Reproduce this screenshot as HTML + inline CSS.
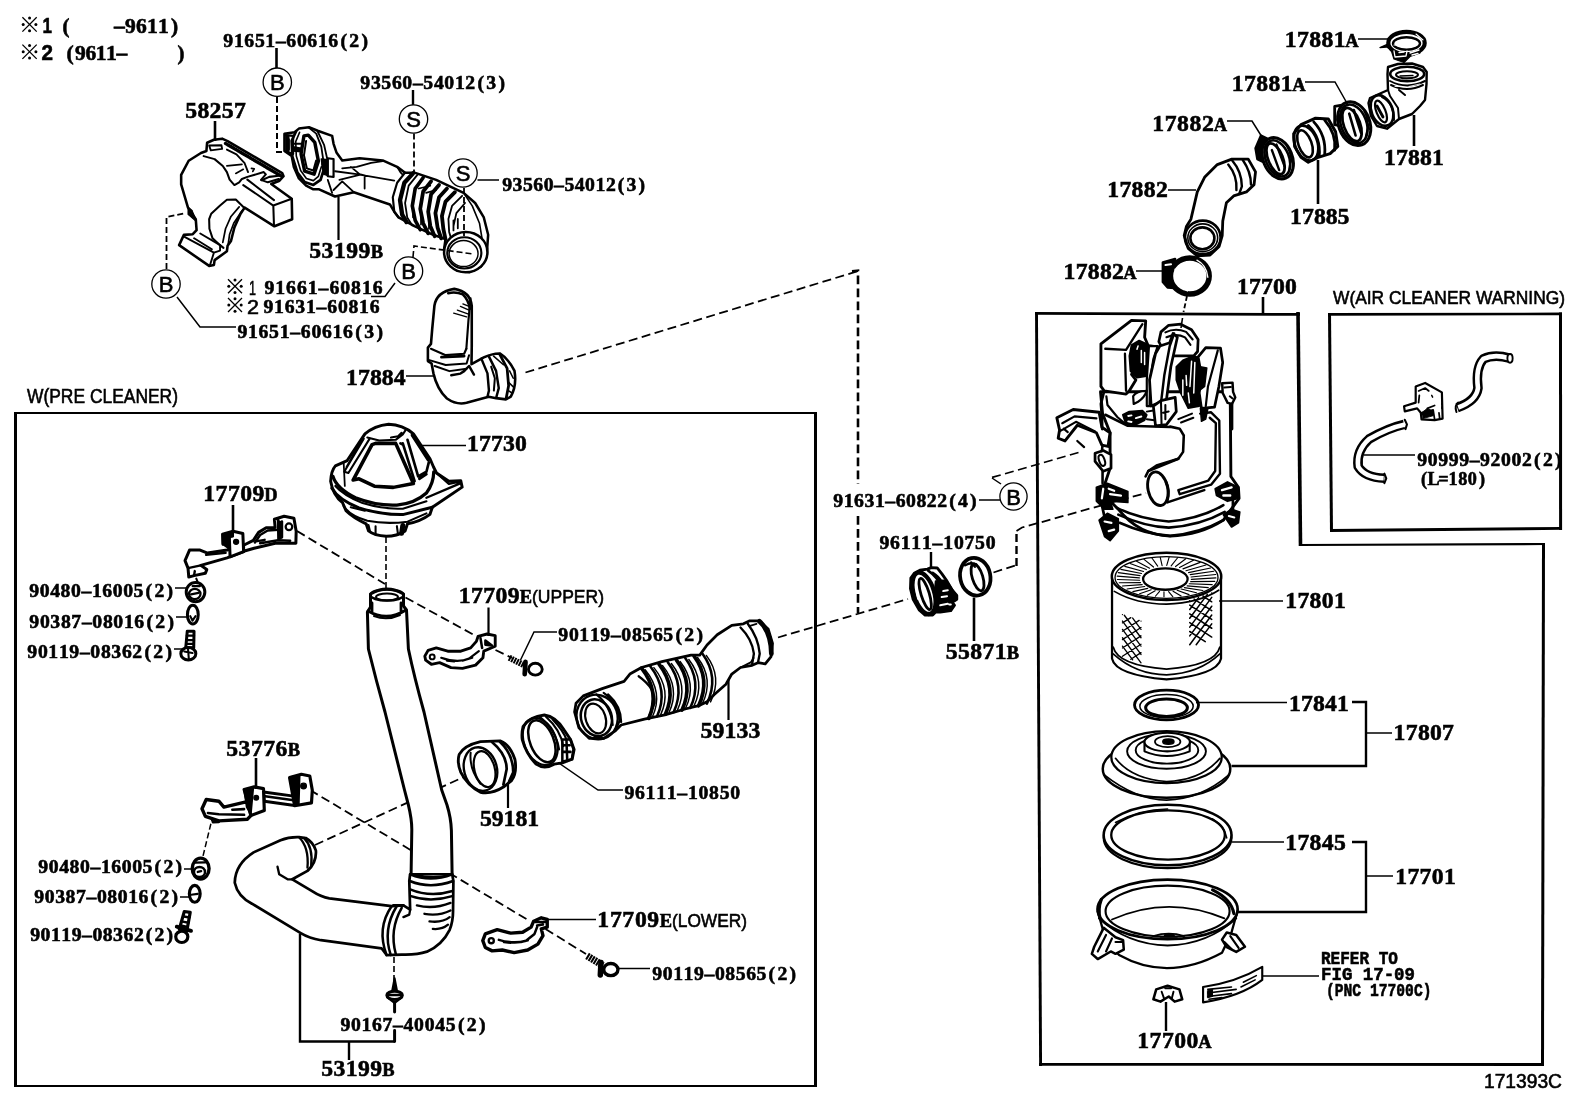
<!DOCTYPE html>
<html><head><meta charset="utf-8"><title>Air cleaner parts diagram</title>
<style>html,body{margin:0;padding:0;background:#fff;}svg{display:block;}text{fill:#000;stroke:#000;stroke-width:0.6px;}</style>
</head><body>
<svg width="1592" height="1099" viewBox="0 0 1592 1099">
<rect x="0" y="0" width="1592" height="1099" fill="#fff"/>
<!-- frames -->
<path d="M15.5,412 L15.5,1087" fill="none" stroke="#000" stroke-width="3" />
<path d="M815.5,412 L815.5,1087" fill="none" stroke="#000" stroke-width="3" />
<path d="M14,413 L817,413" fill="none" stroke="#000" stroke-width="2" />
<path d="M14,1086 L817,1086" fill="none" stroke="#000" stroke-width="2" />
<path d="M1035,313.4 L1300,314.4" fill="none" stroke="#000" stroke-width="2.8" />
<path d="M1298,312 L1300.5,546" fill="none" stroke="#000" stroke-width="3.6" />
<path d="M1299,545 L1545,544" fill="none" stroke="#000" stroke-width="2.1" />
<path d="M1543.5,543 L1542.5,1066" fill="none" stroke="#000" stroke-width="3" />
<path d="M1039,1064.4 L1544,1064.5" fill="none" stroke="#000" stroke-width="2.8" />
<path d="M1036.5,312 L1040.6,1066" fill="none" stroke="#000" stroke-width="2.9" />
<path d="M1329.5,313 L1331.5,532" fill="none" stroke="#000" stroke-width="3" />
<path d="M1328,314.4 L1562,313.9" fill="none" stroke="#000" stroke-width="2.6" />
<path d="M1560.5,312.5 L1560.6,530" fill="none" stroke="#000" stroke-width="3" />
<path d="M1330,530.5 L1562,528.4" fill="none" stroke="#000" stroke-width="2.9" />
<!-- dashed (behind parts) -->
<path d="M525.5,372.5 L860,270.5" fill="none" stroke="#000" stroke-width="1.8" stroke-dasharray="9 4.5" />
<path d="M778,637.5 L908,599" fill="none" stroke="#000" stroke-width="1.8" stroke-dasharray="9 4.5" />
<path d="M993.5,572.5 L1016.5,565" fill="none" stroke="#000" stroke-width="1.8" stroke-dasharray="9 4.5" />
<path d="M1078.5,452.5 L992,477.5" fill="none" stroke="#000" stroke-width="1.8" stroke-dasharray="9 4.5" />
<path d="M1187,296 L1183.5,312" fill="none" stroke="#000" stroke-width="1.8" stroke-dasharray="5 2.5" />
<path d="M386,537 L386,590" fill="none" stroke="#000" stroke-width="1.6" stroke-dasharray="6 3" />
<path d="M297,531 L385,584" fill="none" stroke="#000" stroke-width="1.8" stroke-dasharray="9 4.5" />
<path d="M405.5,597.5 L476,636" fill="none" stroke="#000" stroke-width="1.8" stroke-dasharray="9 4.5" />
<path d="M495.5,650 L512,658" fill="none" stroke="#000" stroke-width="1.8" stroke-dasharray="9 4.5" />
<path d="M310,790 L528,920" fill="none" stroke="#000" stroke-width="1.8" stroke-dasharray="9 4.5" />
<path d="M545.5,929 L586,954" fill="none" stroke="#000" stroke-width="1.8" stroke-dasharray="9 4.5" />
<path d="M213,815 L203,856" fill="none" stroke="#000" stroke-width="1.5" stroke-dasharray="6 3" />
<path d="M315,845 L468,775" fill="none" stroke="#000" stroke-width="1.8" stroke-dasharray="9 4.5" />
<path d="M394,957 L394,981" fill="none" stroke="#000" stroke-width="1.6" stroke-dasharray="6 3" />
<!-- parts -->
<!-- 01_58257.svg -->
<g transform="translate(160,125) scale(0.13652)" fill="none" stroke="#000" stroke-linejoin="round" stroke-linecap="round">
<path d="M345,130 L395,108 L455,100 L495,118 L895,352 L905,375 L875,408 L815,432 L965,540 L968,690 L838,742 L620,605 L590,650 L545,750 L520,850 L495,885 L490,925 L400,990 L395,1025 L360,1032 L140,880 L175,805 L240,800 L268,770 L262,690 L205,605 L155,435 L155,365 L210,262 L300,205 L340,190 Z" fill="#fff" stroke-width="18.8"/>
<path d="M205,600 L235,625 L262,690 L258,700 L205,655 Z" fill="#000" stroke-width="7.5"/>
<path d="M360,150 L450,148 L455,175 L372,186 Z" stroke-width="13.8"/>
<path d="M480,135 L885,372" stroke-width="25.0" stroke-dasharray="10 5"/>
<path d="M490,180 L560,215 L620,280 L645,345" stroke-width="13.8"/>
<path d="M320,228 L400,250 L460,300 L490,345 L510,400 L545,440 L580,420 L600,395 L640,380 L760,345 L775,362 L740,402 L790,420 L870,395" stroke-width="15.0"/>
<path d="M745,405 L800,380 L870,372" stroke-width="15.0"/>
<path d="M490,300 L600,288 M555,355 L610,325 M670,318 L690,322 L680,340" stroke-width="12.5"/>
<path d="M640,400 L835,550 M610,440 L830,590 L835,740 M830,590 L965,540" stroke-width="15.0"/>
<path d="M620,610 L555,545 L490,548 L440,590 L375,650 L360,690 L362,760 L385,830 L440,880 L465,900" stroke-width="15.0"/>
<path d="M580,600 L520,670 L480,760 L460,860 M600,630 L540,720 L510,800 L500,870" stroke-width="12.5"/>
<path d="M180,820 L395,935 L440,920 L440,880 M395,935 L365,1030 M250,830 L380,910 M295,795 L440,880" stroke-width="13.8"/>
</g>
<!-- 02_53199B_top.svg -->
<g transform="translate(270,125) scale(0.14447)" fill="none" stroke="#000" stroke-linejoin="round" stroke-linecap="round">
<!-- duct body silhouette -->
<path d="M100,60 L170,50 L200,25 L270,15 L330,40 L430,75 L440,130 L460,190 L500,245 L620,230 L780,245 L880,290 L935,330 L1000,330 L1150,380 L1340,470 L1420,540 L1480,640 L1510,760 L1500,900 L1460,980 L1380,1020 L1290,1005 L1225,940 L1205,860 L1215,790 L1130,760 L1000,700 L890,640 L860,600 L830,550 L580,465 L450,495 L340,445 L300,445 L250,420 L200,370 L165,290 L150,215 L100,180 Z" fill="#fff" stroke-width="17.5"/>
<!-- flange details -->
<path d="M180,45 L150,110 L155,220 L190,330 L240,395 L300,415 L350,380 L375,300" stroke-width="18.8"/>
<path d="M205,50 L178,115 L182,215 L212,315 L252,370 L300,385 L335,355 L355,290" stroke-width="11.2"/>
<path d="M235,75 L215,200 L240,320 L305,340 L335,250 L310,120 L265,70 Z" stroke-width="23.8"/>
<path d="M250,110 L235,210 L255,300 L300,315 L320,245" stroke-width="13.8"/>
<path d="M110,70 L130,72 L130,185 L110,180 Z M160,150 L215,160 L215,185 L160,180 Z" fill="#000" stroke-width="10.0"/>
<path d="M355,235 L400,240 L400,350 L370,340 Z" fill="#000" stroke-width="10.0"/>
<path d="M270,20 L320,60 L355,150 L370,250 M330,45 L375,140 L395,230" stroke-width="12.5"/>
<path d="M110,70 L160,75 L160,200 L110,185 M130,100 L130,170 M160,130 L215,130 M160,165 L215,175" stroke-width="15.0"/>
<path d="M400,230 L440,235 L440,360 L400,355 Z" stroke-width="15.0"/>
<circle cx="378" cy="270" r="16" stroke-width="15.0"/>
<!-- duct inner lines -->
<path d="M450,320 L600,340 L860,385 M560,290 L620,340 L660,350 M655,360 L655,440 M500,300 L600,290 L700,262 L780,250 M400,380 L430,470 M440,450 L500,390 L580,465 M480,380 L620,345 M880,290 L905,330 L920,345" stroke-width="12.5"/>
<!-- hose collar -->
<path d="M935,330 L880,400 L850,500 L860,600 L890,640" stroke-width="15.0"/>
<path d="M990,335 L930,400 L900,520 L915,620 L945,672" stroke-width="30.0"/>
<path d="M1020,345 L960,420 L935,540 L950,640 L985,695" stroke-width="12.5"/>
<!-- bellows ribs -->
<path d="M1060,365 L1005,440 L985,560 L1005,660 L1040,725" stroke-width="25.0"/>
<path d="M1115,390 L1060,460 L1040,580 L1060,680 L1095,750" stroke-width="26.2"/>
<path d="M1170,415 L1115,480 L1095,600 L1110,700 L1140,770" stroke-width="26.2"/>
<path d="M1225,440 L1170,500 L1145,610 L1160,710 L1185,785" stroke-width="26.2"/>
<path d="M1280,465 L1215,530 L1190,630 L1200,720 L1215,790" stroke-width="26.2"/>
<path d="M1030,440 L1110,420 M1080,470 L1150,450 M990,560 L990,640 M1045,600 L1045,690 M1100,620 L1100,720" stroke-width="11.2"/>
<!-- elbow -->
<path d="M1330,490 L1260,560 L1235,650 L1240,740 L1255,790" stroke-width="12.5"/>
<path d="M1350,540 L1290,610 L1270,700 M1270,660 L1270,730 M1300,650 L1300,715" stroke-width="12.5"/>
<path d="M1340,470 L1400,560 L1450,680 L1470,800" stroke-width="11.2"/>
<!-- end ring -->
<ellipse cx="1355" cy="880" rx="150" ry="140" fill="#fff" stroke-width="17.5"/>
<ellipse cx="1345" cy="885" rx="118" ry="108" stroke-width="15.0"/>
<ellipse cx="1340" cy="890" rx="100" ry="90" stroke-width="10.0"/>
</g>
<!-- 03_17884.svg -->
<g transform="translate(415,280) scale(0.12283)" fill="none" stroke="#000" stroke-linejoin="round" stroke-linecap="round">
<path d="M158,210 Q175,95 320,72 Q450,95 462,210 L462,540 L460,685 L560,630 Q620,600 690,598 Q760,640 810,740 Q830,860 780,950 L740,972 L660,962 L600,950 L420,1000 Q340,1020 260,965 Q180,890 150,760 L135,680 L105,660 L105,550 L130,520 L140,400 Z" fill="#fff" stroke-width="21.2"/>
<path d="M452,150 L435,330 L418,560" stroke-width="17.5"/>
<path d="M270,108 Q330,92 390,118 Q435,160 447,235" stroke-width="20.0"/>
<path d="M315,270 L420,300 M345,245 L430,275 M370,215 L440,245 M390,195 L440,215" stroke-width="11.2"/>
<path d="M130,560 L250,612 L400,600 L418,560" stroke-width="17.5"/>
<path d="M215,628 L400,620" stroke-width="22.5"/>
<path d="M110,650 L250,692 L420,680 L440,612 M160,700 L280,742 L420,722" stroke-width="16.2"/>
<path d="M295,775 L370,762 L400,742 L440,700 L480,770" stroke-width="20.0"/>
<path d="M540,640 L590,760 L602,900 L590,950 M600,620 L660,740 L682,880 L662,955" stroke-width="20.0"/>
<path d="M620,705 L650,800 L642,900" stroke-width="16.2"/>
<path d="M690,605 L750,720 L762,860 L742,965" stroke-width="22.5"/>
<path d="M640,620 L720,690 M770,740 L800,800 M760,830 L800,870 M760,900 L790,920" stroke-width="12.5"/>
</g>
<!-- 04_17730.svg -->
<g transform="translate(320,415) scale(0.11826)" fill="none" stroke="#000" stroke-linejoin="round" stroke-linecap="round">
<path d="M380,160 Q460,90 580,78 Q700,80 790,160 L930,370 L960,440 L985,490 L1090,560 L1190,555 L1202,610 L950,780 L930,840 Q850,900 740,920 L720,980 Q650,1025 560,1025 Q460,1020 410,980 L390,920 Q280,870 220,810 L190,740 Q110,680 90,560 Q95,470 130,430 L230,385 Z" fill="#fff" stroke-width="25.0"/>
<path d="M400,190 L500,215 L640,210 L700,165 L722,130 M600,190 L660,180 L690,150" stroke-width="17.5"/>
<path d="M470,240 L640,240 L790,580 L620,612 L460,602 L330,540 L280,550 L440,250 Z" stroke-width="30.0"/>
<path d="M420,200 L240,490 L205,480 L370,200 M350,215 L225,440" stroke-width="17.5"/>
<path d="M740,210 L830,520 L900,480 L920,400 M700,240 L800,560 M680,240 L700,250 M840,540 L900,500" stroke-width="22.5"/>
<path d="M780,170 L915,380" stroke-width="27.5"/>
<path d="M110,520 Q140,620 300,700 Q480,770 650,762 Q800,750 900,660 Q960,580 962,480" stroke-width="27.5"/>
<path d="M130,600 Q200,680 360,745 Q540,800 700,792 L900,730" stroke-width="17.5"/>
<path d="M100,620 Q160,720 330,785 Q520,845 700,842 L950,780" stroke-width="25.0"/>
<path d="M200,770 Q250,850 400,895 Q560,925 740,902 L900,832 M260,780 L380,810" stroke-width="17.5"/>
<path d="M410,930 L422,980 M470,940 L470,1012 M650,940 L660,1012" stroke-width="17.5"/>
<path d="M700,935 L690,1000" stroke-width="42.5"/>
<path d="M985,490 L1090,582 L1190,560 M900,700 L1180,580" stroke-width="20.0"/>
<path d="M200,400 L210,600" stroke-width="15.0"/>
</g>
<!-- 05_pipes.svg -->
<g fill="none" stroke="#000" stroke-linejoin="round" stroke-linecap="round">
<!-- tall pipe (source coords) -->
<path d="M367.4,612 L368.4,649 Q376,680 385,712 L404.5,790 L408.4,805 Q412,820 411.8,830.5 L411,880 L452.2,880 L451.4,830.5 Q451,818 447,805 L441.7,790 L424,712 Q414,676 408.4,649 L406.5,610 L403.5,606 L403.5,594 Q387,584 370.5,594 L370.5,607 Z" fill="#fff" stroke-width="3.0"/>
<ellipse cx="387" cy="595" rx="16.5" ry="5.6" stroke-width="2.5"/>
<ellipse cx="387" cy="597" rx="11" ry="3.6" stroke-width="2.0"/>
<path d="M368,611 Q387,622 406,610 M372,612 L372,603 M401,611 L401,603" stroke-width="2.8"/>
<path d="M374,616 Q387,621 400,615" stroke-width="2.0"/>
</g>
<g transform="translate(225,780) scale(0.16830)" fill="none" stroke="#000" stroke-linejoin="round" stroke-linecap="round">
<!-- lower pipe silhouette -->
<path d="M440,340 Q380,338 330,358 L170,430 Q60,500 58,610 Q75,690 160,735 L450,910 Q500,940 570,952 L930,1000 L960,1040 L1050,1037 Q1140,1040 1200,1020 Q1290,980 1335,890 Q1355,840 1355,780 L1357,600 L1350,560 L1100,560 L1095,600 L1100,770 L1060,745 L990,750 L620,703 Q570,695 520,662 L400,590 L490,540 Q545,490 540,420 Q525,370 480,345 Z" fill="#fff" stroke-width="16.2"/>
<!-- end ring -->
<path d="M440,340 Q500,400 490,520 M470,345 Q525,400 512,510" stroke-width="13.8"/>
<path d="M312,515 L322,560 L372,590 L400,590" stroke-width="13.8"/>
<!-- collar and ribs of elbow -->
<path d="M1100,560 Q1220,610 1350,560 M1135,565 Q1230,590 1330,568" stroke-width="15.0"/>
<path d="M1098,600 Q1220,650 1355,600" stroke-width="15.0"/>
<path d="M1100,650 Q1220,700 1352,660 M1105,690 Q1220,730 1350,690" stroke-width="15.0"/>
<path d="M1140,745 Q1240,770 1340,730 M1185,795 Q1270,810 1340,775 M1215,840 Q1290,850 1335,815 M1235,885 Q1290,890 1325,860" stroke-width="13.8"/>
<path d="M1100,770 L1095,800 L1060,815" stroke-width="13.8"/>
<!-- joint rings -->
<path d="M990,750 Q900,880 960,1040" stroke-width="15.0"/>
<path d="M1020,750 Q935,890 985,1040 M1050,760 Q975,890 1015,1035" stroke-width="15.0"/>
<path d="M1000,745 L1060,745" stroke-width="15.0"/>
</g>
<!-- 06_17709D.svg -->
<g transform="translate(170,505) scale(0.15021)" fill="none" stroke="#000" stroke-linejoin="round" stroke-linecap="round">
<!-- right tab + arm -->
<path d="M695,95 L760,75 L825,88 L840,175 L838,255 L700,255 L560,288 L490,308 L490,268 L555,235 L590,182 L640,152 L700,150 Z" fill="#fff" stroke-width="20.0"/>
<path d="M720,100 L722,225 L745,215 L745,110" fill="#000" stroke-width="17.5"/>
<circle cx="792" cy="145" r="22" stroke-width="15.0"/>
<path d="M572,242 L630,232 M565,250 L600,200 L650,170 L720,165 M600,255 L720,235 L800,238" stroke-width="16.2"/>
<!-- left arm -->
<path d="M380,300 L250,320 L200,300 L130,300 L100,370 L120,420 L125,480 L160,470 L235,455 L245,430 L205,402 L380,352 L490,310 L480,270 Z" fill="#fff" stroke-width="20.0"/>
<path d="M240,332 L370,318 M120,420 L205,402 M160,470 L165,440" stroke-width="16.2"/>
<!-- centre tab -->
<path d="M350,195 L420,175 L485,190 L490,310 L400,345 L395,215 L352,260 Z" fill="#fff" stroke-width="20.0"/>
<path d="M350,195 L420,178 L420,210 L395,215 L392,290 L352,262 Z" fill="#000" stroke-width="12.5"/>
<circle cx="440" cy="245" r="16" fill="#000" stroke-width="10.0"/>
<!-- nut -->
<ellipse cx="170" cy="580" rx="62" ry="64" fill="#fff" stroke-width="20.0"/>
<ellipse cx="165" cy="592" rx="38" ry="34" stroke-width="15.0"/>
<path d="M140,595 L190,585 M150,540 L200,540 M175,490 L185,515" stroke-width="13.8"/>
<!-- washer -->
<ellipse cx="152" cy="730" rx="36" ry="62" fill="#fff" stroke-width="20.0"/>
<path d="M135,740 L150,770 L170,740" stroke-width="13.8"/>
<!-- bolt -->
<path d="M115,840 L160,840 L158,950 L105,950 Z" fill="#fff" stroke-width="20.0"/>
<path d="M112,870 L160,870 M110,900 L160,900 M108,925 L158,925" stroke-width="15.0"/>
<ellipse cx="122" cy="990" rx="50" ry="42" fill="#fff" stroke-width="20.0"/>
<path d="M95,975 L150,985 M120,960 L125,1020" stroke-width="13.8"/>
</g>
<!-- 07_53776B.svg -->
<g transform="translate(170,765) scale(0.16842)" fill="none" stroke="#000" stroke-linejoin="round" stroke-linecap="round">
<!-- middle arm -->
<path d="M555,160 L735,185 L740,240 L560,215 Z" fill="#fff" stroke-width="17.5"/>
<path d="M565,185 L735,210" stroke-width="15.0"/>
<!-- right tab -->
<path d="M710,75 L780,55 L830,65 L845,150 L840,225 L740,242 Z" fill="#fff" stroke-width="18.8"/>
<path d="M710,75 L770,62 L765,235 L740,240 Z" fill="#000" stroke-width="10.0"/>
<circle cx="793" cy="125" r="17" fill="#000" stroke-width="7.5"/>
<!-- left arm -->
<path d="M470,215 L320,250 L290,215 L215,205 L190,260 L210,305 L290,332 L460,322 L480,300 Z" fill="#fff" stroke-width="20.0"/>
<path d="M225,285 L290,292 L440,296 M370,266 L440,262 M250,322 L255,340 L290,338" stroke-width="15.0"/>
<!-- centre tab -->
<path d="M440,145 L500,130 L555,140 L560,270 L480,300 Z" fill="#fff" stroke-width="18.8"/>
<path d="M440,145 L495,133 L480,295 L455,250 Z" fill="#000" stroke-width="10.0"/>
<circle cx="512" cy="195" r="14" fill="#000" stroke-width="7.5"/>
<!-- nut -->
<ellipse cx="182" cy="615" rx="50" ry="62" fill="#fff" stroke-width="20.0"/>
<ellipse cx="175" cy="635" rx="33" ry="30" stroke-width="15.0"/>
<path d="M150,580 L210,578 M165,635 L185,630" stroke-width="13.8"/>
<!-- washer -->
<ellipse cx="147" cy="765" rx="32" ry="50" fill="#fff" stroke-width="18.8"/>
<path d="M125,770 L165,765" stroke-width="12.5"/>
<!-- bolt -->
<path d="M85,870 L120,875 L100,985 L55,975 Z" fill="#fff" stroke-width="18.8"/>
<path d="M82,900 L116,905 M76,930 L110,936 M70,955 L104,962" stroke-width="15.0"/>
<path d="M40,960 L125,985" stroke-width="22.5"/>
<ellipse cx="70" cy="1020" rx="36" ry="34" fill="#fff" stroke-width="18.8"/>
</g>
<!-- 08_59133.svg -->
<g transform="translate(560,610) scale(0.14557)" fill="none" stroke="#000" stroke-linejoin="round" stroke-linecap="round">
<path d="M160,590 L290,540 L440,490 L480,440 L560,395 L700,355 L900,310 L960,310 L1010,240 L1080,170 L1180,105 L1260,95 L1300,75 L1370,75 L1430,130 L1460,230 L1450,320 L1410,370 L1360,362 L1320,380 L1240,395 L1180,440 L1140,510 L1060,580 L1010,630 L960,655 L860,680 L720,720 L580,750 L420,790 L380,830 L300,882 L200,882 L130,810 L100,700 L110,640 Z" fill="#fff" stroke-width="18.8"/>
<ellipse cx="255" cy="735" rx="140" ry="155" transform="rotate(-18 255 735)" stroke-width="16.2"/>
<ellipse cx="250" cy="740" rx="105" ry="128" transform="rotate(-18 250 740)" stroke-width="17.5"/>
<ellipse cx="245" cy="745" rx="68" ry="105" transform="rotate(-18 245 745)" stroke-width="15.0"/>
<path d="M300,570 Q400,640 410,760 L380,830 M250,580 Q350,660 362,790 M330,580 Q420,660 420,770" stroke-width="15.0"/>
<path d="M540,455 Q660,540 650,640 L605,745" stroke-width="15.0"/>
<path d="M560,400 Q690,565 610,745.0" stroke-width="25.0"/>
<path d="M585,410 Q712,565 635,733.0" stroke-width="10.0"/>
<path d="M620,386 Q748,550 667,730.5" stroke-width="17.5"/>
<path d="M645,396 Q770,550 692,718.5" stroke-width="10.0"/>
<path d="M680,372 Q806,535 724,716.0" stroke-width="25.0"/>
<path d="M705,382 Q828,535 749,704.0" stroke-width="10.0"/>
<path d="M740,358 Q864,520 781,701.5" stroke-width="17.5"/>
<path d="M765,368 Q886,520 806,689.5" stroke-width="10.0"/>
<path d="M800,344 Q922,505 838,687.0" stroke-width="25.0"/>
<path d="M825,354 Q944,505 863,675.0" stroke-width="10.0"/>
<path d="M860,330 Q980,490 895,672.5" stroke-width="17.5"/>
<path d="M885,340 Q1002,490 920,660.5" stroke-width="10.0"/>
<path d="M920,316 Q1038,475 952,658.0" stroke-width="25.0"/>
<path d="M945,326 Q1060,475 977,646.0" stroke-width="10.0"/>
<path d="M980,302 Q1096,460 1009,643.5" stroke-width="17.5"/>
<path d="M1005,312 Q1118,460 1034,631.5" stroke-width="10.0"/>
<path d="M1240,120 Q1320,200 1332,300 L1320,372 M1290,95 Q1362,190 1372,300 L1360,360" stroke-width="16.2"/>
<path d="M1370,78 Q1450,150 1452,300" stroke-width="32.5"/>
<path d="M1300,110 L1350,95 M1240,395 L1310,360 L1330,330" stroke-width="12.5"/>
</g>
<!-- 09_clamps_mid.svg -->
<g transform="translate(415,625) scale(0.16372)" fill="none" stroke="#000" stroke-linejoin="round" stroke-linecap="round">
<!-- 17709E upper clamp -->
<path d="M60,190 L80,155 L130,140 L200,160 L280,160 L340,140 L375,100 L385,70 L440,55 L490,65 L490,130 L420,160 L415,200 L370,245 L290,265 L220,260 L150,230 L100,240 L65,215 Z" fill="#fff" stroke-width="17.6"/>
<path d="M160,200 Q260,235 330,205 L390,160 M195,218 L240,222 M290,218 L350,200" stroke-width="13.2"/>
<circle cx="105" cy="195" r="15" stroke-width="12.1"/>
<path d="M400,80 L410,140 M430,95 L470,125 L430,120 Z" stroke-width="15.4" fill="#000"/>
<!-- bolt -->
<path d="M575,200 L680,252" stroke-width="37.4" stroke-dasharray="12 5" stroke-linecap="butt"/>
<path d="M675,225 L670,300" stroke-width="28.6"/>
<ellipse cx="735" cy="270" rx="42" ry="36" fill="#fff" stroke-width="17.6"/>
<!-- clamp 96111-10850 -->
<path d="M660,620 Q700,560 790,550 Q860,560 910,640 L950,700 L972,760 L960,820 L900,842 L850,850 Q790,885 740,850 Q680,790 655,700 Q650,660 660,620 Z" fill="#fff" stroke-width="17.6"/>
<ellipse cx="775" cy="710" rx="72" ry="135" transform="rotate(-22 775 710)" stroke-width="15.4"/>
<ellipse cx="765" cy="712" rx="98" ry="150" transform="rotate(-22 765 712)" stroke-width="13.2"/>
<path d="M760,560 Q860,640 880,760 M800,560 Q890,640 905,740 M840,575 Q910,650 925,700" stroke-width="13.2"/>
<path d="M900,700 L950,700 L968,760 L958,820 L900,835 Z" stroke-width="15.4"/>
<path d="M905,735 L945,735 M905,775 L950,775 M925,700 L930,830" stroke-width="15.4"/>
<!-- ring 59181 -->
<path d="M270,790 Q300,735 400,712 L520,708 Q580,730 610,820 Q625,900 590,950 L540,990 Q470,1035 400,1022 Q320,980 280,900 Q255,840 270,790 Z" fill="#fff" stroke-width="17.6"/>
<ellipse cx="400" cy="880" rx="100" ry="135" transform="rotate(-15 400 880)" stroke-width="14.3"/>
<ellipse cx="425" cy="880" rx="62" ry="112" transform="rotate(-15 425 880)" stroke-width="13.2"/>
<path d="M340,780 Q330,880 400,970" stroke-width="12.1"/>
<path d="M470,715 Q560,790 560,880 L540,975 M520,715 Q600,790 600,900 L575,955" stroke-width="16.5"/>
</g>
<!-- 10_lower_clamp.svg -->
<g transform="translate(370,900) scale(0.16960)" fill="none" stroke="#000" stroke-linejoin="round" stroke-linecap="round">
<path d="M665,240 L680,200 L750,175 L830,195 L900,190 L950,160 L965,125 L1010,105 L1045,115 L1045,160 L1010,170 L1020,210 L990,260 L930,295 L850,310 L780,295 L720,300 L680,280 Z" fill="#fff" stroke-width="20.0"/>
<path d="M760,235 Q850,262 920,240 L970,200 L985,160 M790,248 L830,252 M890,248 L930,238" stroke-width="15.0"/>
<circle cx="715" cy="240" r="15" stroke-width="13.8"/>
<path d="M975,130 L1035,130 M985,150 L1020,145" stroke-width="15.0"/>
<!-- bolt -->
<path d="M1280,330 L1372,385" stroke-width="42.5" stroke-dasharray="12 5" stroke-linecap="butt"/>
<path d="M1362,368 L1358,442" stroke-width="32.5"/>
<ellipse cx="1420" cy="410" rx="42" ry="36" fill="#fff" stroke-width="20.0"/>
<!-- screw 90167 -->
<path d="M145,462 L160,540 L130,540 Z" fill="#000" stroke-width="12.5"/>
<ellipse cx="145" cy="562" rx="46" ry="24" fill="#fff" stroke-width="17.5"/>
<path d="M105,575 L145,605 L185,575 M110,560 L180,560" stroke-width="15.0"/>
<path d="M145,600 L145,660 M145,770 L145,835" stroke-width="17.5"/>
</g>
<!-- 11_topright.svg -->
<g transform="translate(1330,20) scale(0.1)" fill="none" stroke="#000" stroke-linejoin="round" stroke-linecap="round">
<!-- clamp 17881A top -->
<path d="M500,275 L565,270 L610,295 L640,390 L740,425 L800,365 L900,330 L880,250 L600,230 Z" fill="#000" stroke-width="13.2"/>
<ellipse cx="765" cy="230" rx="182" ry="112" fill="#fff" stroke-width="41.8"/>
<ellipse cx="765" cy="235" rx="135" ry="62" stroke-width="24.2"/>
<path d="M640,310 L650,370 L760,360 L770,310 M690,325 L740,320 M800,330 L890,300 M820,350 L880,335" stroke="#fff" stroke-width="13.2"/>
<path d="M860,140 L930,200 M640,250 L860,245" stroke="#fff" stroke-width="11.0"/>
<!-- elbow 17881 -->
<path d="M575,540 L580,470 L680,440 L820,435 L930,470 L967,520 L965,640 L950,800 L900,860 L820,940 L690,990 L570,1087 L470,1060 L410,960 L385,830 L400,780 L580,700 Z" fill="#fff" stroke-width="24.2"/>
<ellipse cx="772" cy="540" rx="170" ry="72" stroke-width="26.4"/>
<ellipse cx="770" cy="548" rx="110" ry="36" stroke-width="19.8"/>
<path d="M700,560 L830,555 M720,585 L820,580" stroke-width="13.2"/>
<path d="M600,610 Q770,700 950,610 M610,650 Q770,730 930,650" stroke-width="19.8"/>
<path d="M650,665 L700,665 M790,665 L900,640" stroke="#fff" stroke-width="8.8"/>
<path d="M690,700 L750,750 M580,700 L600,760 L680,880 L690,990" stroke-width="19.8"/>
<ellipse cx="520" cy="905" rx="105" ry="160" transform="rotate(-22 520 905)" stroke-width="26.4"/>
<ellipse cx="510" cy="915" rx="45" ry="115" transform="rotate(-22 510 915)" stroke-width="22.0"/>
<path d="M470,860 L530,970" stroke-width="28.6"/>
<path d="M520,770 Q640,830 640,1000" stroke-width="19.8"/>
</g>
<g transform="translate(1170,90) scale(0.18196)" fill="none" stroke="#000" stroke-linejoin="round" stroke-linecap="round">
<!-- hose 17882 -->
<path d="M340,380 L430,380 L470,450 L462,520 L420,560 L350,582 L310,620 L290,720 L287,800 L270,860 L220,907 L150,912 L100,870 L78,800 L90,750 L115,710 L150,560 L190,480 L260,410 Z" fill="#fff" stroke-width="15.4"/>
<path d="M340,385 Q395,450 395,530 L380,572 M400,385 Q445,450 445,520 M320,410 Q370,470 365,550" stroke-width="13.2"/>
<ellipse cx="180" cy="810" rx="98" ry="92" stroke-width="14.3"/>
<ellipse cx="178" cy="815" rx="66" ry="60" stroke-width="14.3"/>
<ellipse cx="180" cy="812" rx="82" ry="76" stroke-width="8.8"/>
<!-- clamp 17882A upper -->
<path d="M470,320 L500,250 L540,270 L520,400 L480,380 Z" fill="#000" stroke-width="13.2"/>
<ellipse cx="592" cy="375" rx="80" ry="118" transform="rotate(-22 592 375)" fill="#fff" stroke-width="16.5"/>
<ellipse cx="590" cy="376" rx="64" ry="104" transform="rotate(-22 590 376)" stroke-width="14.3"/>
<ellipse cx="580" cy="378" rx="40" ry="90" transform="rotate(-22 580 378)" stroke-width="15.4"/>
<path d="M640,300 L665,360 M655,330 L672,400 M660,395 L655,440 M560,470 L610,488" stroke-width="9.9"/>
<path d="M560,330 L600,440 M585,300 L630,420" stroke-width="13.2"/>
<!-- connector 17885 -->
<path d="M680,240 L720,190 L800,155 L870,160 L910,230 L922,310 L880,350 L810,372 L760,397 L720,370 L685,310 Z" fill="#fff" stroke-width="16.5"/>
<ellipse cx="748" cy="292" rx="62" ry="100" transform="rotate(-20 748 292)" stroke-width="15.4"/>
<ellipse cx="742" cy="296" rx="36" ry="78" transform="rotate(-20 742 296)" stroke-width="14.3"/>
<path d="M760,195 Q830,260 820,365 M790,175 Q860,250 850,355 M850,165 Q915,240 905,330" stroke-width="15.4"/>
<!-- clamp 17881A second -->
<path d="M905,90 L960,80 L950,200 L905,190 Z" fill="#fff" stroke-width="15.4"/>
<ellipse cx="1012" cy="185" rx="86" ry="124" transform="rotate(-20 1012 185)" fill="#fff" stroke-width="16.5"/>
<ellipse cx="1010" cy="186" rx="70" ry="110" transform="rotate(-20 1010 186)" stroke-width="14.3"/>
<ellipse cx="1000" cy="190" rx="45" ry="96" transform="rotate(-20 1000 190)" stroke-width="15.4"/>
<path d="M1065,110 L1090,170 M1080,150 L1095,215 M1085,215 L1075,260" stroke-width="9.9"/>
<path d="M985,130 L1020,250 M1010,110 L1050,235" stroke-width="14.3"/>
</g>
<!-- 12_body.svg -->
<g transform="translate(1040,250) scale(0.13645)" fill="none" stroke="#000" stroke-linejoin="round" stroke-linecap="round">
<!-- clamp 17882A lower -->
<path d="M900,90 L990,65 L1010,280 L935,275 L900,235 Z" fill="#000" stroke-width="17.5"/>
<ellipse cx="1098" cy="190" rx="142" ry="132" fill="#fff" stroke-width="40.0"/>
<path d="M990,140 Q1000,250 1080,300 M1150,75 Q1220,110 1230,200" stroke="#fff" stroke-width="10.0"/>
<path d="M920,110 L960,105" stroke="#fff" stroke-width="15.0"/>
</g>
<!-- lower half of body (view 1050,400 @7.325) -->
<g transform="translate(1050,400) scale(0.13652)" fill="none" stroke="#000" stroke-linejoin="round" stroke-linecap="round">
<path d="M370,-60 L385,100 L440,240 L440,500 L400,620 L440,740 L500,800 Q650,990 880,997 Q1100,990 1270,880 L1385,720 L1380,640 L1325,560 L1320,-60 Z" fill="#fff" stroke-width="21.2"/>
<path d="M490,790 Q650,870 870,890 Q1100,870 1270,770" stroke-width="18.8"/>
<path d="M500,840 Q700,930 870,935 Q1100,920 1280,820" stroke-width="18.8"/>
<path d="M510,900 Q700,985 880,995 Q1100,975 1270,880" stroke-width="20.0"/>
<path d="M406,108 L566,188 L880,198 M880,195 L950,210 L980,260 L975,380 L940,430 L780,480 L720,520 L700,560" stroke-width="18.8"/>
<path d="M940,140 L1040,100 M960,165 L1050,130" stroke-width="15.0"/>
<path d="M720,520 L940,430 M860,750 L1130,660" stroke-width="18.8"/>
<ellipse cx="790" cy="650" rx="72" ry="125" transform="rotate(-12 790 650)" fill="#fff" stroke-width="21.2"/>
<path d="M850,600 Q880,660 860,740" stroke-width="18.8"/>
<path d="M1100,100 L1180,90 L1240,150 L1245,540 L1180,620 L950,690 L940,660 L1160,590 L1210,520 L1215,170 L1170,130" stroke-width="17.5"/>
<!-- left arm bracket -->
<path d="M50,130 L170,70 L360,90 L380,200 L440,240 L425,340 L380,330 L340,240 L200,185 L110,300 L60,280 L70,220 Z" fill="#fff" stroke-width="21.2"/>
<path d="M90,170 L180,120 L340,135 M70,230 L190,160 L330,230 M100,210 L130,235" stroke-width="16.2"/>
<path d="M200,300 L250,345" stroke-width="16.2"/>
<!-- link -->
<path d="M330,390 L390,370 L447,400 L447,500 L390,522 L330,450 Z" fill="#fff" stroke-width="20.0"/>
<ellipse cx="380" cy="442" rx="20" ry="42" transform="rotate(-20 380 442)" stroke-width="15.0"/>
<path d="M385,330 L380,375 M385,525 L385,610" stroke-width="18.8"/>
<!-- latches -->
<path d="M340,640 L420,610 L570,670 L570,750 L440,740 L460,800 L400,800 L340,740 Z" fill="#000" stroke-width="12.5"/>
<path d="M390,650 L380,720 M440,690 L520,700 M430,650 L470,665" stroke="#fff" stroke-width="16.2"/>
<path d="M360,880 L420,830 L500,870 L500,960 L440,1030 L400,1000 Z" fill="#000" stroke-width="12.5"/>
<path d="M400,890 L450,900 M430,960 L470,950" stroke="#fff" stroke-width="16.2"/>
<path d="M380,770 L400,860" stroke-width="20.0"/>
<path d="M1210,650 L1300,600 L1380,640 L1385,720 L1300,742 L1220,700 Z" fill="#000" stroke-width="12.5"/>
<path d="M1260,660 L1330,640 M1270,700 L1320,700" stroke="#fff" stroke-width="17.5"/>
<path d="M1270,840 L1330,800 L1390,820 L1380,900 L1330,930 Z" fill="#000" stroke-width="12.5"/>
<path d="M1310,850 L1350,860" stroke="#fff" stroke-width="15.0"/>
<path d="M1340,740 L1340,800" stroke-width="20.0"/>
</g>
<!-- upper half of body (view 1090,310 @9.156) -->
<g transform="translate(1090,310) scale(0.10922)" fill="none" stroke="#000" stroke-linejoin="round" stroke-linecap="round">
<!-- lid -->
<path d="M125,760 L100,860 L108,960 L112,1090 M1300,1090 L1300,860" stroke-width="25.0"/>
<path d="M150,790 L160,870 L250,980 L320,1040" stroke-width="20.0"/>
<!-- central arch -->
<path d="M630,290 L650,200 L720,140 L830,130 L930,180 L990,270 L985,380 L950,420 L700,420 Z" fill="#fff" stroke-width="25.0"/>
<path d="M690,205 Q780,160 880,200 L940,270 M700,250 Q790,210 870,250 L920,320" stroke-width="18.8"/>
<!-- left box -->
<path d="M100,310 L380,95 L510,100 L500,250 L530,320 L380,590 L420,640 L360,740 L330,770 L130,740 L100,700 Z" fill="#fff" stroke-width="26.2"/>
<path d="M140,355 L330,365 L480,130 M320,400 L330,740" stroke-width="21.2"/>
<!-- left bellows -->
<path d="M380,320 L450,280 L540,320 L600,330 L560,600 L430,620 L370,560 L360,420 Z" fill="#000" stroke-width="15.0"/>
<path d="M470,370 L470,480 M500,390 L500,500 M430,360 L440,330" stroke="#fff" stroke-width="13.8"/>
<!-- blade -->
<path d="M540,330 L620,330 L580,450 L550,640 L545,880 L520,880 L520,640 Z" fill="#fff" stroke-width="20.0"/>
<path d="M760,215 L800,250 L740,520 L700,820 L560,880 L545,640 L600,400 L640,330 L730,300 Z" fill="#fff" stroke-width="25.0"/>
<path d="M770,215 L730,330 L680,600 L650,850" stroke-width="22.5"/>
<!-- right bellows -->
<path d="M790,520 L850,460 L950,420 L1000,440 L1030,520 L1000,880 L900,900 L830,760 L790,640 Z" fill="#000" stroke-width="15.0"/>
<path d="M880,600 L885,690 M930,470 L915,700 M960,480 L950,760 M850,640 L850,780 M900,760 L910,850" stroke="#fff" stroke-width="13.8"/>
<!-- right plate -->
<path d="M990,430 L1060,345 L1195,350 L1215,480 L1180,700 L1140,890 L1020,900 L1000,760 L1020,600 Z" fill="#fff" stroke-width="25.0"/>
<path d="M1170,370 L1080,700 L1060,880" stroke-width="20.0"/>
<path d="M1010,520 L1070,530 L1050,700 L1000,740 Z" fill="#000" stroke-width="12.5"/>
<path d="M1010,900 L1020,1020 L1060,1000 L1080,900 Z" fill="#000" stroke-width="12.5"/>
<!-- right tab -->
<path d="M1210,670 L1305,665 L1310,750 L1330,800 L1300,860 L1260,850 L1215,760 Z" fill="#fff" stroke-width="22.5"/>
<path d="M1230,710 L1290,705 M1280,790 L1305,810" stroke-width="18.8"/>
<!-- wire loop -->
<path d="M395,790 Q420,740 520,740 Q500,800 440,840 L400,860 Z" fill="#fff" stroke-width="20.0"/>
<!-- connectors -->
<path d="M300,960 L360,930 L480,920 L520,960 L500,1010 L400,1060 L330,1050 Z" fill="#000" stroke-width="15.0"/>
<path d="M350,970 L380,965 M420,990 L470,975 M350,1020 L380,1025" stroke="#fff" stroke-width="17.5"/>
<path d="M580,880 L650,830 L780,800 L790,930 L700,1050 L600,1060 Z" fill="#fff" stroke-width="25.0"/>
<path d="M650,835 L655,1050 M690,870 L690,1000 M670,940 L720,930" stroke-width="18.8"/>
<path d="M520,930 L580,920 M520,1000 L590,1010" stroke-width="17.5"/>
</g>
<!-- 13_filter.svg -->
<g transform="translate(1090,545) scale(0.23188)" fill="none" stroke="#000" stroke-linejoin="round" stroke-linecap="round">
<!-- filter 17801 -->
<path d="M95,140 L95,490 Q110,560 330,580 Q550,560 565,490 L565,140 Z" fill="#fff" stroke-width="9.8"/>
<path d="M100,470 Q200,560 330,560 Q470,555 560,470 M100,440 Q120,520 330,535 Q540,520 560,440" stroke-width="7.4"/>
<ellipse cx="330" cy="135" rx="236" ry="102" fill="#fff" stroke-width="10.7"/>
<ellipse cx="330" cy="140" rx="222" ry="90" stroke-width="5.7"/>
<path d="M437,148 L543,142 M434,158 L538,157 M428,167 L527,171 M419,176 L510,184 M407,184 L487,196 M393,190 L459,206 M376,195 L427,214 M358,199 L393,220 M339,201 L357,223 M319,202 L319,223 M300,200 L282,221 M281,197 L247,217 M264,193 L214,210 M249,187 L185,201 M236,179 L160,190 M225,171 L140,177 M218,162 L126,163 M214,152 L118,149 M213,142 L117,134 M216,132 L122,119 M222,123 L133,105 M231,114 L150,92 M243,106 L173,80 M257,100 L201,70 M274,95 L233,62 M292,91 L267,56 M311,89 L303,53 M331,88 L341,53 M350,90 L378,55 M369,93 L413,59 M386,97 L446,66 M401,103 L475,75 M414,111 L500,86 M425,119 L520,99 M432,128 L534,113 M436,138 L542,127" stroke-width="4.9"/>
<ellipse cx="325" cy="147" rx="96" ry="46" fill="#fff" stroke-width="9.8"/>
<path d="M105,200 Q200,255 330,255 Q470,250 555,195" stroke-width="7.4"/>
<path d="M140,300 L140,300 M220,328 L220,328 M140,336 L176,313 M220,364 L184,315 M140,372 L212,325 M220,400 L148,303 M140,408 L220,356 M220,436 L140,328 M140,444 L220,392 M220,472 L140,364 M140,480 L220,428 M220,508 L140,400 M176,493 L220,464 M184,495 L140,436" stroke-width="5.7"/>
<path d="M430,240 L430,240 M525,207 L525,207 M430,278 L468,227 M525,245 L487,220 M430,316 L506,213 M525,283 L449,233 M430,354 L525,226 M525,321 L430,259 M430,392 L525,264 M525,359 L430,297 M430,430 L525,302 M525,397 L430,335 M458,430 L525,340 M497,417 L430,373" stroke-width="6.6"/>
<!-- ring 17841 -->
<ellipse cx="330" cy="690" rx="138" ry="64" fill="#fff" stroke-width="12.3"/>
<ellipse cx="330" cy="695" rx="115" ry="50" stroke-width="6.6"/>
<ellipse cx="330" cy="702" rx="90" ry="38" stroke-width="13.1"/>
<!-- cover 17807 -->
<ellipse cx="330" cy="965" rx="275" ry="125" fill="#fff" stroke-width="10.7"/>
<path d="M60,990 Q200,1100 330,1100 Q480,1095 600,990" stroke-width="7.4"/>
<ellipse cx="330" cy="915" rx="238" ry="112" fill="#fff" stroke-width="9.8"/>
<path d="M110,920 Q180,1010 330,1020 Q480,1015 560,920" stroke-width="7.4"/>
<ellipse cx="330" cy="890" rx="170" ry="75" stroke-width="8.2"/>
<ellipse cx="332" cy="885" rx="135" ry="58" stroke-width="8.2"/>
<path d="M235,850 L235,890 Q330,930 430,890 L430,850" fill="#fff" stroke-width="9.0"/>
<ellipse cx="333" cy="850" rx="98" ry="40" fill="#fff" stroke-width="9.0"/>
<ellipse cx="335" cy="848" rx="55" ry="24" stroke-width="7.4"/>
<ellipse cx="338" cy="848" rx="24" ry="11" fill="#000" stroke-width="6.6"/>
</g>
<!-- 14_bowl.svg -->
<g transform="translate(1080,800) scale(0.23669)" fill="none" stroke="#000" stroke-linejoin="round" stroke-linecap="round">
<!-- ring 17845 -->
<ellipse cx="370" cy="160" rx="270" ry="128" fill="#fff" stroke-width="9.0"/>
<ellipse cx="370" cy="148" rx="270" ry="128" fill="#fff" stroke-width="10.7"/>
<ellipse cx="372" cy="148" rx="240" ry="104" stroke-width="9.8"/>
<path d="M150,95 Q250,40 370,38 M560,80 Q610,110 620,160" stroke-width="6.6"/>
<!-- bowl 17701 -->
<path d="M75,470 L100,560 L150,640 L165,655 Q370,770 600,645 L640,560 L665,470 Z" fill="#fff" stroke-width="9.8"/>
<ellipse cx="370" cy="462" rx="296" ry="126" fill="#fff" stroke-width="11.5"/>
<ellipse cx="370" cy="470" rx="262" ry="108" stroke-width="9.0"/>
<path d="M135,505 Q370,400 610,500" stroke-width="7.4"/>
<path d="M80,500 Q200,610 370,615 Q540,610 660,500" stroke-width="8.2"/>
<path d="M310,575 Q375,555 440,575 M340,578 L410,578" stroke-width="7.4"/>
<path d="M360,572 L395,572" stroke-width="11.5"/>
<path d="M560,380 Q640,420 650,480" stroke-width="13.1"/>
<path d="M90,420 Q75,460 85,500" stroke-width="13.1"/>
<!-- left latch -->
<path d="M100,540 L60,620 L50,650 L75,672 L130,640 L150,650 L185,632 L182,592 L150,580 Z" fill="#fff" stroke-width="10.7"/>
<path d="M110,570 L75,640 M135,585 L110,640 M150,600 L180,600" stroke-width="9.0"/>
<!-- right latch -->
<path d="M620,560 L660,570 L697,620 L660,642 L620,622 L600,590 Z" fill="#fff" stroke-width="10.7"/>
<path d="M635,575 L670,625 M610,600 L640,630" stroke-width="9.0"/>
<!-- wing nut 17700A -->
<path d="M310,842 L322,800 L370,785 L420,800 L432,842 L400,852 L375,830 L340,852 Z" fill="#fff" stroke-width="10.7"/>
<path d="M345,810 L355,838 M395,810 L388,838 M360,795 L385,795" stroke-width="8.2"/>
<!-- sticker -->
<path d="M520,790 Q660,770 770,705 L770,760 Q680,830 520,855 Z" fill="#fff" stroke-width="9.0"/>
<path d="M540,800 L640,790 M540,815 L660,800 M540,830 L640,818 M545,842 L600,835 M680,790 L740,760 M690,770 L745,742" stroke-width="6.6"/>
<path d="M540,805 L560,800 L560,830 L540,835 Z" fill="#000" stroke-width="4.1"/>
</g>
<!-- 15_clamp_ring.svg -->
<g transform="translate(895,545) scale(0.075377)" fill="none" stroke="#000" stroke-linejoin="round" stroke-linecap="round">
<!-- clamp 96111-10750 -->
<path d="M210,440 L260,370 L330,335 L430,320 L480,300 L560,305 L620,380 L690,480 L760,600 L820,670 L820,720 L760,760 L790,800 L740,870 L600,890 L540,890 L500,930 L400,930 L320,860 L240,720 L205,580 Z" fill="#fff" stroke-width="37.5"/>
<path d="M540,480 L640,470 L700,500 L820,680 L815,720 L760,760 L785,800 L740,868 L560,890 L520,700 Z" fill="#000" stroke-width="25.0"/>
<path d="M640,610 L700,600 M620,690 L690,680 M600,800 L700,780 M720,790 L740,790" stroke="#fff" stroke-width="27.5"/>
<ellipse cx="385" cy="640" rx="135" ry="285" transform="rotate(-17 385 640)" fill="#fff" stroke-width="57.5"/>
<ellipse cx="400" cy="650" rx="55" ry="215" transform="rotate(-17 400 650)" stroke-width="37.5"/>
<path d="M440,340 Q560,420 620,560 M500,370 Q590,430 610,480" stroke-width="35.0"/>
<path d="M300,420 Q260,560 300,720" stroke="#fff" stroke-width="12.5"/>
<!-- ring 55871B -->
<ellipse cx="1065" cy="420" rx="200" ry="252" transform="rotate(-12 1065 420)" fill="#fff" stroke-width="50.0"/>
<ellipse cx="1095" cy="430" rx="70" ry="185" transform="rotate(-17 1095 430)" stroke-width="37.5"/>
<path d="M930,270 Q1010,220 1080,260 M1010,230 L1060,290" stroke-width="30.0"/>
</g>
<!-- 16_warning.svg -->
<g transform="translate(1340,340) scale(0.14556)" fill="none" stroke="#000" stroke-linejoin="round" stroke-linecap="round">
<!-- C hose -->
<path d="M440,580 Q330,605 200,680 Q110,760 125,870 Q170,945 305,950" stroke-width="66.0" stroke-linecap="butt"/>
<path d="M446,580 Q330,605 200,680 Q110,760 125,870 Q170,945 300,950" stroke="#fff" stroke-width="32.0" stroke-linecap="butt"/>
<path d="M445,548 L460,580 L450,612 M305,918 L318,950 L305,984" stroke-width="14.0"/>
<!-- S hose -->
<path d="M1165,125 Q1060,95 985,130 Q930,190 948,330 Q935,420 805,465" stroke-width="66.0" stroke-linecap="butt"/>
<path d="M1160,125 Q1060,95 985,130 Q930,190 948,330 Q935,420 812,464" stroke="#fff" stroke-width="32.0" stroke-linecap="butt"/>
<ellipse cx="1168" cy="126" rx="18" ry="30" fill="#fff" stroke-width="13.0"/>
<path d="M812,430 Q785,450 800,495" stroke-width="14.0"/>
<!-- valve -->
<path d="M520,320 L585,295 L700,360 L705,540 L650,550 L560,545 L555,500 L530,470 L445,490 L440,455 L520,430 Z" fill="#fff" stroke-width="15.0"/>
<path d="M540,350 L585,330 L610,350 M545,380 L540,430 M600,470 L650,450 M560,500 L640,480 L650,545 M680,500 L685,540" stroke-width="12.0"/>
<path d="M560,500 L600,470 L640,490 L640,520 L570,540 Z" fill="#000" stroke-width="6.0"/>
<path d="M630,380 L640,400 M700,380 L700,470" stroke-width="10.0" stroke-dasharray="14 12"/>
</g>
<!-- leaders -->
<path d="M276.5,48 L276.5,68" fill="none" stroke="#000" stroke-width="2.6" />
<path d="M215,121 L215,141" fill="none" stroke="#000" stroke-width="2.6" />
<path d="M413,90 L413,105" fill="none" stroke="#000" stroke-width="2.4" />
<path d="M477.5,180 L499,180" fill="none" stroke="#000" stroke-width="1.5" />
<path d="M338.5,197 L338.5,240" fill="none" stroke="#000" stroke-width="2.2" />
<path d="M177,297 L200,327 L236,327" fill="none" stroke="#000" stroke-width="1.5" />
<path d="M371,296.5 L385,296.5 L395,283" fill="none" stroke="#000" stroke-width="1.5" />
<path d="M406,376 L433,376" fill="none" stroke="#000" stroke-width="1.5" />
<path d="M420,445.5 L466,445.5" fill="none" stroke="#000" stroke-width="1.5" />
<path d="M233,505 L233,533" fill="none" stroke="#000" stroke-width="2.6" />
<path d="M175,588 L188,588" fill="none" stroke="#000" stroke-width="1.5" />
<path d="M176,617 L188,617" fill="none" stroke="#000" stroke-width="1.5" />
<path d="M174,649 L183,649" fill="none" stroke="#000" stroke-width="1.5" />
<path d="M488.5,607.5 L488.5,636" fill="none" stroke="#000" stroke-width="2.2" />
<path d="M557,632 L534,632 L520.5,660" fill="none" stroke="#000" stroke-width="1.5" />
<path d="M728.5,680 L728.5,720" fill="none" stroke="#000" stroke-width="2.2" />
<path d="M623,790 L598,790 L558,762.5" fill="none" stroke="#000" stroke-width="1.5" />
<path d="M508,782.5 L508,808" fill="none" stroke="#000" stroke-width="2.2" />
<path d="M256,758 L256,789" fill="none" stroke="#000" stroke-width="2.6" />
<path d="M979,500 L1000,500" fill="none" stroke="#000" stroke-width="1.5" />
<path d="M931,552 L931,568" fill="none" stroke="#000" stroke-width="2.4" />
<path d="M974,597.5 L974,641" fill="none" stroke="#000" stroke-width="2.6" />
<path d="M1358,39 L1388,39" fill="none" stroke="#000" stroke-width="1.5" />
<path d="M1305,82 L1335,82 L1348,105" fill="none" stroke="#000" stroke-width="1.5" />
<path d="M1227,121 L1252,121 L1262,137" fill="none" stroke="#000" stroke-width="1.5" />
<path d="M1414,115 L1414,146" fill="none" stroke="#000" stroke-width="2.6" />
<path d="M1318,160 L1318,204" fill="none" stroke="#000" stroke-width="2.6" />
<path d="M1168,190 L1196,190" fill="none" stroke="#000" stroke-width="1.5" />
<path d="M1136,271 L1163,271" fill="none" stroke="#000" stroke-width="1.5" />
<path d="M1263,297 L1263,314" fill="none" stroke="#000" stroke-width="2.6" />
<path d="M1364,455 L1415,455" fill="none" stroke="#000" stroke-width="1.5" />
<path d="M1219,601 L1283,601" fill="none" stroke="#000" stroke-width="1.5" />
<path d="M1196,702.5 L1287,702.5" fill="none" stroke="#000" stroke-width="1.5" />
<path d="M1352,702 L1366,702 L1366,766 L1231.5,766" fill="none" stroke="#000" stroke-width="2.4" />
<path d="M1366,733 L1392,733" fill="none" stroke="#000" stroke-width="1.5" />
<path d="M1231.5,842 L1284,842" fill="none" stroke="#000" stroke-width="1.5" />
<path d="M1352,842 L1366,842 L1366,912 L1236.5,912" fill="none" stroke="#000" stroke-width="2.4" />
<path d="M1366,876 L1393,876" fill="none" stroke="#000" stroke-width="1.5" />
<path d="M1263,976 L1319,976" fill="none" stroke="#000" stroke-width="1.5" />
<path d="M1166,1002 L1166,1031" fill="none" stroke="#000" stroke-width="2.4" />
<path d="M545.5,919.5 L596,919.5" fill="none" stroke="#000" stroke-width="1.5" />
<path d="M618,968.5 L650,968.5" fill="none" stroke="#000" stroke-width="1.5" />
<path d="M300,934 L300,1041.5 L394.5,1041.5" fill="none" stroke="#000" stroke-width="2.4" />
<path d="M349,1041 L349,1060" fill="none" stroke="#000" stroke-width="2.4" />
<path d="M277,97 L277,152 L284,152" fill="none" stroke="#000" stroke-width="2" stroke-dasharray="6 3" />
<path d="M414,133.5 L414,172" fill="none" stroke="#000" stroke-width="1.8" stroke-dasharray="6 3" />
<path d="M464,188 L464,236" fill="none" stroke="#000" stroke-width="1.8" stroke-dasharray="6 3" />
<path d="M413,257 L414,246 L473,254" fill="none" stroke="#000" stroke-width="1.6" stroke-dasharray="6 3" />
<path d="M166.5,269 L166.5,217 L186,213" fill="none" stroke="#000" stroke-width="1.8" stroke-dasharray="6 3" />
<path d="M852,271.3 L858,270.6 L858,484" fill="none" stroke="#000" stroke-width="2.6" stroke-dasharray="8.8 4.2" stroke-dashoffset="2"/>
<path d="M858,516 L858,613" fill="none" stroke="#000" stroke-width="2.6" stroke-dasharray="8.8 4.2" />
<path d="M992,478 L1001,484" fill="none" stroke="#000" stroke-width="1.5" />
<path d="M184,869 L193,869" fill="none" stroke="#000" stroke-width="1.5" />
<path d="M180,897 L189,897" fill="none" stroke="#000" stroke-width="1.5" />
<path d="M175,934 L181,932" fill="none" stroke="#000" stroke-width="1.5" />
<path d="M1182.5,318 L1181,328" fill="none" stroke="#000" stroke-width="1.6" />
<path d="M1016.5,566 L1016.5,533" fill="none" stroke="#000" stroke-width="2.4" stroke-dasharray="8 4" />
<path d="M1016.5,531 L1022,527.5 L1146,493" fill="none" stroke="#000" stroke-width="1.8" stroke-dasharray="9 4.5" />
<!-- labels -->
<g opacity="0.999">
<g transform="translate(21.4,16.3)" stroke="#000" stroke-width="1.3" fill="#000"><path d="M1,1 L15.3,15.3 M15.3,1 L1,15.3" fill="none"/><circle cx="8.15" cy="1.8" r="1.5" stroke="none"/><circle cx="8.15" cy="14.5" r="1.5" stroke="none"/><circle cx="1.8" cy="8.15" r="1.5" stroke="none"/><circle cx="14.5" cy="8.15" r="1.5" stroke="none"/></g>
<text x="42.5" y="32.8" font-size="21.93" font-family="Liberation Sans" font-weight="bold" textLength="9.5" lengthAdjust="spacingAndGlyphs" stroke-width="0.65" >1</text>
<text x="62.5" y="32.6" font-size="20.77" font-family="Liberation Serif" font-weight="bold">(</text>
<text y="33.3" font-size="21.54" font-family="Liberation Serif" font-weight="bold" text-anchor="middle" x="119.5 130.5 141.5 152.5 163.5 174.5">–9611)</text>
<g transform="translate(21.4,43.6)" stroke="#000" stroke-width="1.3" fill="#000"><path d="M1,1 L15.3,15.3 M15.3,1 L1,15.3" fill="none"/><circle cx="8.15" cy="1.8" r="1.5" stroke="none"/><circle cx="8.15" cy="14.5" r="1.5" stroke="none"/><circle cx="1.8" cy="8.15" r="1.5" stroke="none"/><circle cx="14.5" cy="8.15" r="1.5" stroke="none"/></g>
<text x="41.5" y="60.2" font-size="21.37" font-family="Liberation Sans" font-weight="bold" textLength="11.5" lengthAdjust="spacingAndGlyphs" stroke-width="0.65" >2</text>
<text y="59.7" font-size="21.54" font-family="Liberation Serif" font-weight="bold" text-anchor="middle" x="70.2 80.5 90.8 101.2 111.5 121.8">(9611–</text>
<text x="177.5" y="59.5" font-size="20.77" font-family="Liberation Serif" font-weight="bold">)</text>
<text y="46.7" font-size="19.69" font-family="Liberation Serif" font-weight="bold" text-anchor="middle" x="228.2 238.8 249.2 259.8 270.2 280.8 291.2 301.8 312.2 322.8 333.2 343.8 354.2 364.8">91651–60616(2)</text>
<text y="88.5" font-size="19.69" font-family="Liberation Serif" font-weight="bold" text-anchor="middle" x="365.2 375.8 386.2 396.8 407.2 417.8 428.2 438.8 449.2 459.8 470.2 480.8 491.2 501.8">93560–54012(3)</text>
<text y="191" font-size="19.69" font-family="Liberation Serif" font-weight="bold" text-anchor="middle" x="507.2 517.5 527.9 538.2 548.6 559.0 569.3 579.7 590.0 600.4 610.8 621.1 631.5 641.8">93560–54012(3)</text>
<g transform="translate(227,278.2)" stroke="#000" stroke-width="1.3" fill="#000"><path d="M1,1 L15,15 M15,1 L1,15" fill="none"/><circle cx="8.0" cy="1.8" r="1.5" stroke="none"/><circle cx="8.0" cy="14.2" r="1.5" stroke="none"/><circle cx="1.8" cy="8.0" r="1.5" stroke="none"/><circle cx="14.2" cy="8.0" r="1.5" stroke="none"/></g>
<text x="249" y="294.5" font-size="20.95" font-family="Liberation Sans" font-weight="normal" textLength="7" lengthAdjust="spacingAndGlyphs" stroke-width="0.65" >1</text>
<text y="294" font-size="19.69" font-family="Liberation Serif" font-weight="bold" text-anchor="middle" x="269.4 280.2 291.0 301.9 312.7 323.5 334.3 345.1 356.0 366.8 377.6">91661–60816</text>
<g transform="translate(227,297)" stroke="#000" stroke-width="1.3" fill="#000"><path d="M1,1 L15,15 M15,1 L1,15" fill="none"/><circle cx="8.0" cy="1.8" r="1.5" stroke="none"/><circle cx="8.0" cy="14.2" r="1.5" stroke="none"/><circle cx="1.8" cy="8.0" r="1.5" stroke="none"/><circle cx="14.2" cy="8.0" r="1.5" stroke="none"/></g>
<text x="247" y="313.5" font-size="20.95" font-family="Liberation Sans" font-weight="normal" textLength="12" lengthAdjust="spacingAndGlyphs" stroke-width="0.65" >2</text>
<text y="312.5" font-size="19.69" font-family="Liberation Serif" font-weight="bold" text-anchor="middle" x="268.3 279.0 289.6 300.2 310.9 321.5 332.1 342.8 353.4 364.0 374.7">91631–60816</text>
<text y="338" font-size="19.69" font-family="Liberation Serif" font-weight="bold" text-anchor="middle" x="242.3 252.9 263.4 274.0 284.6 295.1 305.7 316.3 326.9 337.4 348.0 358.6 369.1 379.7">91651–60616(3)</text>
<text y="597" font-size="19.69" font-family="Liberation Serif" font-weight="bold" text-anchor="middle" x="34.2 44.6 55.1 65.5 75.9 86.4 96.8 107.2 117.6 128.1 138.5 148.9 159.4 169.8">90480–16005(2)</text>
<text y="628" font-size="19.69" font-family="Liberation Serif" font-weight="bold" text-anchor="middle" x="34.2 44.8 55.2 65.8 76.2 86.8 97.2 107.8 118.2 128.8 139.2 149.8 160.2 170.8">90387–08016(2)</text>
<text y="657.5" font-size="19.69" font-family="Liberation Serif" font-weight="bold" text-anchor="middle" x="32.2 42.8 53.2 63.8 74.2 84.8 95.2 105.8 116.2 126.8 137.2 147.8 158.2 168.8">90119–08362(2)</text>
<text y="641" font-size="19.69" font-family="Liberation Serif" font-weight="bold" text-anchor="middle" x="563.2 573.8 584.2 594.8 605.2 615.8 626.2 636.8 647.2 657.8 668.2 678.8 689.2 699.8">90119–08565(2)</text>
<text y="799" font-size="19.69" font-family="Liberation Serif" font-weight="bold" text-anchor="middle" x="629.3 639.9 650.5 661.1 671.7 682.2 692.8 703.4 714.0 724.6 735.2">96111–10850</text>
<text y="506.5" font-size="19.69" font-family="Liberation Serif" font-weight="bold" text-anchor="middle" x="838.2 848.6 859.0 869.4 879.8 890.2 900.6 910.9 921.3 931.7 942.1 952.5 962.9 973.3">91631–60822(4)</text>
<text y="549" font-size="19.69" font-family="Liberation Serif" font-weight="bold" text-anchor="middle" x="884.3 895.0 905.6 916.2 926.9 937.5 948.1 958.8 969.4 980.0 990.7">96111–10750</text>
<text y="873" font-size="19.69" font-family="Liberation Serif" font-weight="bold" text-anchor="middle" x="43.2 53.6 64.1 74.5 84.9 95.4 105.8 116.2 126.6 137.1 147.5 157.9 168.4 178.8">90480–16005(2)</text>
<text y="903" font-size="19.69" font-family="Liberation Serif" font-weight="bold" text-anchor="middle" x="39.2 49.6 60.1 70.5 80.9 91.4 101.8 112.2 122.6 133.1 143.5 153.9 164.4 174.8">90387–08016(2)</text>
<text y="940.5" font-size="19.69" font-family="Liberation Serif" font-weight="bold" text-anchor="middle" x="35.2 45.5 55.9 66.2 76.6 87.0 97.3 107.7 118.0 128.4 138.8 149.1 159.5 169.8">90119–08362(2)</text>
<text y="980" font-size="19.69" font-family="Liberation Serif" font-weight="bold" text-anchor="middle" x="657.2 667.6 678.1 688.5 698.9 709.4 719.8 730.2 740.6 751.1 761.5 771.9 782.4 792.8">90119–08565(2)</text>
<text y="1031" font-size="19.69" font-family="Liberation Serif" font-weight="bold" text-anchor="middle" x="345.3 355.8 366.3 376.9 387.4 397.9 408.5 419.0 429.6 440.1 450.6 461.2 471.7 482.2">90167–40045(2)</text>
<text y="466" font-size="19.69" font-family="Liberation Serif" font-weight="bold" text-anchor="middle" x="1422.2 1432.7 1443.2 1453.6 1464.1 1474.6 1485.0 1495.5 1505.9 1516.4 1526.9 1537.3 1547.8 1558.3">90999–92002(2)</text>
<text y="485" font-size="18.15" font-family="Liberation Serif" font-weight="bold" text-anchor="middle" x="1423.9 1433.6 1443.3 1453.0 1462.7 1472.4 1482.1">(L=180)</text>
<text y="117.5" font-size="23.67" font-family="Liberation Serif" font-weight="bold" text-anchor="middle" x="191.1 203.3 215.5 227.7 239.9">58257</text>
<text y="258" font-size="23.67" font-family="Liberation Serif" font-weight="bold" text-anchor="middle" x="315.2 327.5 339.8 352.2 364.5">53199</text>
<text y="258" font-size="18.46" font-family="Liberation Serif" font-weight="bold" text-anchor="middle" x="376.8">B</text>
<text y="384.5" font-size="23.67" font-family="Liberation Serif" font-weight="bold" text-anchor="middle" x="351.9 363.9 375.8 387.6 399.6">17884</text>
<text y="500.5" font-size="23.67" font-family="Liberation Serif" font-weight="bold" text-anchor="middle" x="209.2 221.5 233.8 246.2 258.5">17709</text>
<text y="500.5" font-size="18.46" font-family="Liberation Serif" font-weight="bold" text-anchor="middle" x="270.8">D</text>
<text y="450.5" font-size="23.67" font-family="Liberation Serif" font-weight="bold" text-anchor="middle" x="473.0 485.0 497.0 509.0 521.0">17730</text>
<text y="603" font-size="23.67" font-family="Liberation Serif" font-weight="bold" text-anchor="middle" x="464.6 476.9 489.1 501.4 513.6">17709</text>
<text y="603" font-size="18.46" font-family="Liberation Serif" font-weight="bold" text-anchor="middle" x="525.9">E</text>
<text x="532" y="603" font-size="18.85" font-family="Liberation Sans" font-weight="normal" textLength="72" lengthAdjust="spacingAndGlyphs" stroke-width="0.65" >(UPPER)</text>
<text y="737.5" font-size="23.67" font-family="Liberation Serif" font-weight="bold" text-anchor="middle" x="706.5 718.5 730.5 742.5 754.5">59133</text>
<text y="826" font-size="23.67" font-family="Liberation Serif" font-weight="bold" text-anchor="middle" x="485.9 497.7 509.5 521.3 533.1">59181</text>
<text y="755.5" font-size="23.67" font-family="Liberation Serif" font-weight="bold" text-anchor="middle" x="232.2 244.5 256.8 269.2 281.5">53776</text>
<text y="755.5" font-size="18.46" font-family="Liberation Serif" font-weight="bold" text-anchor="middle" x="293.8">B</text>
<text y="927" font-size="23.67" font-family="Liberation Serif" font-weight="bold" text-anchor="middle" x="603.2 615.8 628.2 640.8 653.2">17709</text>
<text y="927" font-size="18.46" font-family="Liberation Serif" font-weight="bold" text-anchor="middle" x="665.8">E</text>
<text x="672" y="927" font-size="18.85" font-family="Liberation Sans" font-weight="normal" textLength="75" lengthAdjust="spacingAndGlyphs" stroke-width="0.65" >(LOWER)</text>
<text y="1076" font-size="23.67" font-family="Liberation Serif" font-weight="bold" text-anchor="middle" x="327.1 339.4 351.6 363.9 376.1">53199</text>
<text y="1076" font-size="18.46" font-family="Liberation Serif" font-weight="bold" text-anchor="middle" x="388.4">B</text>
<text y="659" font-size="23.67" font-family="Liberation Serif" font-weight="bold" text-anchor="middle" x="951.6 963.9 976.1 988.4 1000.6">55871</text>
<text y="659" font-size="18.46" font-family="Liberation Serif" font-weight="bold" text-anchor="middle" x="1012.9">B</text>
<text y="47" font-size="23.67" font-family="Liberation Serif" font-weight="bold" text-anchor="middle" x="1290.6 1302.9 1315.1 1327.4 1339.6">17881</text>
<text y="47" font-size="18.46" font-family="Liberation Serif" font-weight="bold" text-anchor="middle" x="1351.9">A</text>
<text y="91" font-size="23.67" font-family="Liberation Serif" font-weight="bold" text-anchor="middle" x="1237.6 1249.9 1262.1 1274.4 1286.6">17881</text>
<text y="91" font-size="18.46" font-family="Liberation Serif" font-weight="bold" text-anchor="middle" x="1298.9">A</text>
<text y="131" font-size="23.67" font-family="Liberation Serif" font-weight="bold" text-anchor="middle" x="1158.2 1170.6 1183.0 1195.5 1207.9">17882</text>
<text y="131" font-size="18.46" font-family="Liberation Serif" font-weight="bold" text-anchor="middle" x="1220.3">A</text>
<text y="165" font-size="23.67" font-family="Liberation Serif" font-weight="bold" text-anchor="middle" x="1390.0 1402.0 1414.0 1426.0 1438.0">17881</text>
<text y="224" font-size="23.67" font-family="Liberation Serif" font-weight="bold" text-anchor="middle" x="1296.0 1307.8 1319.8 1331.7 1343.5">17885</text>
<text y="197" font-size="23.67" font-family="Liberation Serif" font-weight="bold" text-anchor="middle" x="1113.1 1125.3 1137.5 1149.7 1161.9">17882</text>
<text y="279" font-size="23.67" font-family="Liberation Serif" font-weight="bold" text-anchor="middle" x="1069.5 1081.6 1093.7 1105.8 1117.9">17882</text>
<text y="279" font-size="18.46" font-family="Liberation Serif" font-weight="bold" text-anchor="middle" x="1130.0">A</text>
<text y="294" font-size="23.67" font-family="Liberation Serif" font-weight="bold" text-anchor="middle" x="1243.0 1255.0 1267.0 1279.0 1291.0">17700</text>
<text y="608" font-size="23.67" font-family="Liberation Serif" font-weight="bold" text-anchor="middle" x="1291.1 1303.3 1315.5 1327.7 1339.9">17801</text>
<text y="710.5" font-size="23.67" font-family="Liberation Serif" font-weight="bold" text-anchor="middle" x="1295.0 1307.0 1319.0 1331.0 1343.0">17841</text>
<text y="740" font-size="23.67" font-family="Liberation Serif" font-weight="bold" text-anchor="middle" x="1399.5 1411.7 1423.8 1435.8 1448.0">17807</text>
<text y="850" font-size="23.67" font-family="Liberation Serif" font-weight="bold" text-anchor="middle" x="1291.1 1303.3 1315.5 1327.7 1339.9">17845</text>
<text y="884" font-size="23.67" font-family="Liberation Serif" font-weight="bold" text-anchor="middle" x="1401.1 1413.3 1425.5 1437.7 1449.9">17701</text>
<text y="1048" font-size="23.67" font-family="Liberation Serif" font-weight="bold" text-anchor="middle" x="1143.2 1155.5 1167.8 1180.2 1192.5">17700</text>
<text y="1048" font-size="18.46" font-family="Liberation Serif" font-weight="bold" text-anchor="middle" x="1204.8">A</text>
<text x="27" y="403" font-size="19.55" font-family="Liberation Sans" font-weight="normal" textLength="151" lengthAdjust="spacingAndGlyphs" stroke-width="0.65" >W(PRE CLEANER)</text>
<text x="1333" y="304" font-size="18.85" font-family="Liberation Sans" font-weight="normal" textLength="232" lengthAdjust="spacingAndGlyphs" stroke-width="0.65" >W(AIR CLEANER WARNING)</text>
<text x="1484" y="1088" font-size="19.55" font-family="Liberation Sans" font-weight="normal" textLength="78" lengthAdjust="spacingAndGlyphs" stroke-width="0.65" >171393C</text>
<text x="1321" y="963.5" font-size="18.94" font-family="Liberation Mono" font-weight="bold" textLength="77" lengthAdjust="spacingAndGlyphs">REFER TO</text>
<text x="1321" y="980" font-size="18.94" font-family="Liberation Mono" font-weight="bold" textLength="94" lengthAdjust="spacingAndGlyphs">FIG 17-09</text>
<text x="1326" y="996" font-size="18.94" font-family="Liberation Mono" font-weight="bold" textLength="105.5" lengthAdjust="spacingAndGlyphs">(PNC 17700C)</text>
<circle cx="277.3" cy="82.2" r="14.2" fill="#fff" stroke="#000" stroke-width="1.3"/>
<text x="277.3" y="90.2" font-size="22" font-family="Liberation Sans" text-anchor="middle">B</text>
<circle cx="413.5" cy="119" r="14.2" fill="#fff" stroke="#000" stroke-width="1.3"/>
<text x="413.5" y="127" font-size="22" font-family="Liberation Sans" text-anchor="middle">S</text>
<circle cx="463" cy="173" r="14.2" fill="#fff" stroke="#000" stroke-width="1.3"/>
<text x="463" y="181" font-size="22" font-family="Liberation Sans" text-anchor="middle">S</text>
<circle cx="166" cy="284" r="14.2" fill="#fff" stroke="#000" stroke-width="1.3"/>
<text x="166" y="292" font-size="22" font-family="Liberation Sans" text-anchor="middle">B</text>
<circle cx="408.5" cy="271" r="14.2" fill="#fff" stroke="#000" stroke-width="1.3"/>
<text x="408.5" y="279" font-size="22" font-family="Liberation Sans" text-anchor="middle">B</text>
<circle cx="1013.5" cy="496.5" r="13.6" fill="#fff" stroke="#000" stroke-width="1.3"/>
<text x="1013.5" y="504.5" font-size="22" font-family="Liberation Sans" text-anchor="middle">B</text>
</g>
</svg></body></html>
